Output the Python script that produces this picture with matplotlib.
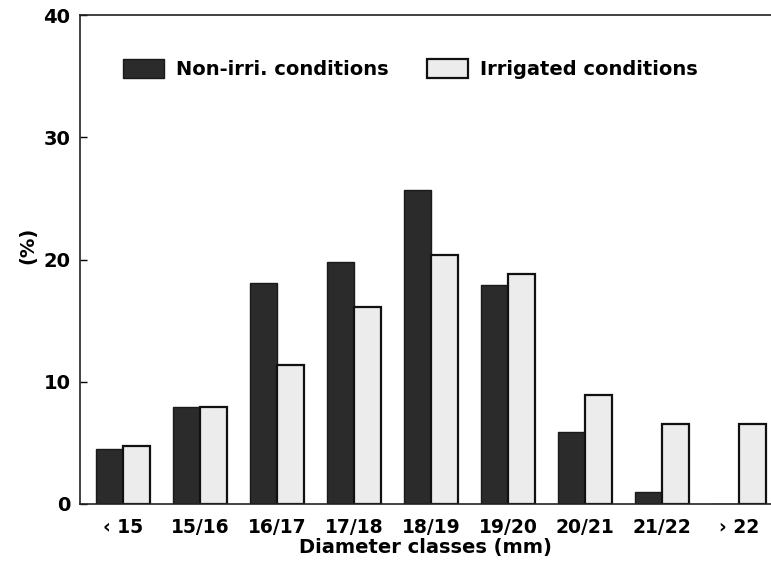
import matplotlib
matplotlib.use('Agg')
import matplotlib.pyplot as plt
import numpy as np

# diameter classes and share of trees (%)
classes = ["\u2039 15", "15/16", "16/17", "17/18", "18/19", "19/20", "20/21", "21/22", "\u203a 22"]
non_irrigated = [4.5, 7.9, 18.1, 19.8, 25.7, 17.9, 5.9, 1.0, 0.0]
irrigated = [4.75, 7.9, 11.4, 16.1, 20.4, 18.8, 8.9, 6.5, 6.5]

plt.rcParams['font.family'] = ['DejaVu Sans']
plt.rcParams['font.weight'] = 'bold'
fs = 14

fig = plt.figure(figsize=(7.71, 5.63), dpi=100)
ax = fig.add_axes([0.104, 0.105, 0.896, 0.868])

x = np.arange(len(classes))
w = 0.35
ax.bar(x - w / 2, non_irrigated, width=w, color="#2b2b2b", edgecolor="#1a1a1a",
       linewidth=1.0, label="Non-irri. conditions")
ax.bar(x + w / 2, irrigated, width=w, color="#ececec", edgecolor="#111111",
       linewidth=1.6, label="Irrigated conditions")

ax.set_xlim(-0.56, 8.42)
ax.set_ylim(0, 40)
ax.set_yticks([0, 10, 20, 30, 40])
ax.set_xticks(x)
ax.set_xticklabels(classes)

ax.tick_params(axis="y", direction="in", length=5, width=1, labelsize=fs, pad=7)
ax.tick_params(axis="x", length=0, labelsize=fs - 0.5, pad=10)
for lab in ax.get_xticklabels() + ax.get_yticklabels():
    lab.set_fontweight("bold")

ax.spines["right"].set_visible(False)
for s in ["left", "bottom", "top"]:
    ax.spines[s].set_linewidth(1.2)
    ax.spines[s].set_color("#222222")

ax.set_xlabel("Diameter classes (mm)", fontsize=fs, fontweight="bold", labelpad=1)
ax.set_ylabel("(%)", fontsize=fs, fontweight="bold")
ax.yaxis.set_label_coords(-0.062, 0.53)

ax.legend(loc="center left", bbox_to_anchor=(0.062, 0.89), ncol=2, frameon=False,
          fontsize=fs, handlelength=2.1, handleheight=1.15, handletextpad=0.6,
          columnspacing=2.0, borderpad=0, borderaxespad=0)

fig.savefig("out.png", dpi=100)
plt.close(fig)
